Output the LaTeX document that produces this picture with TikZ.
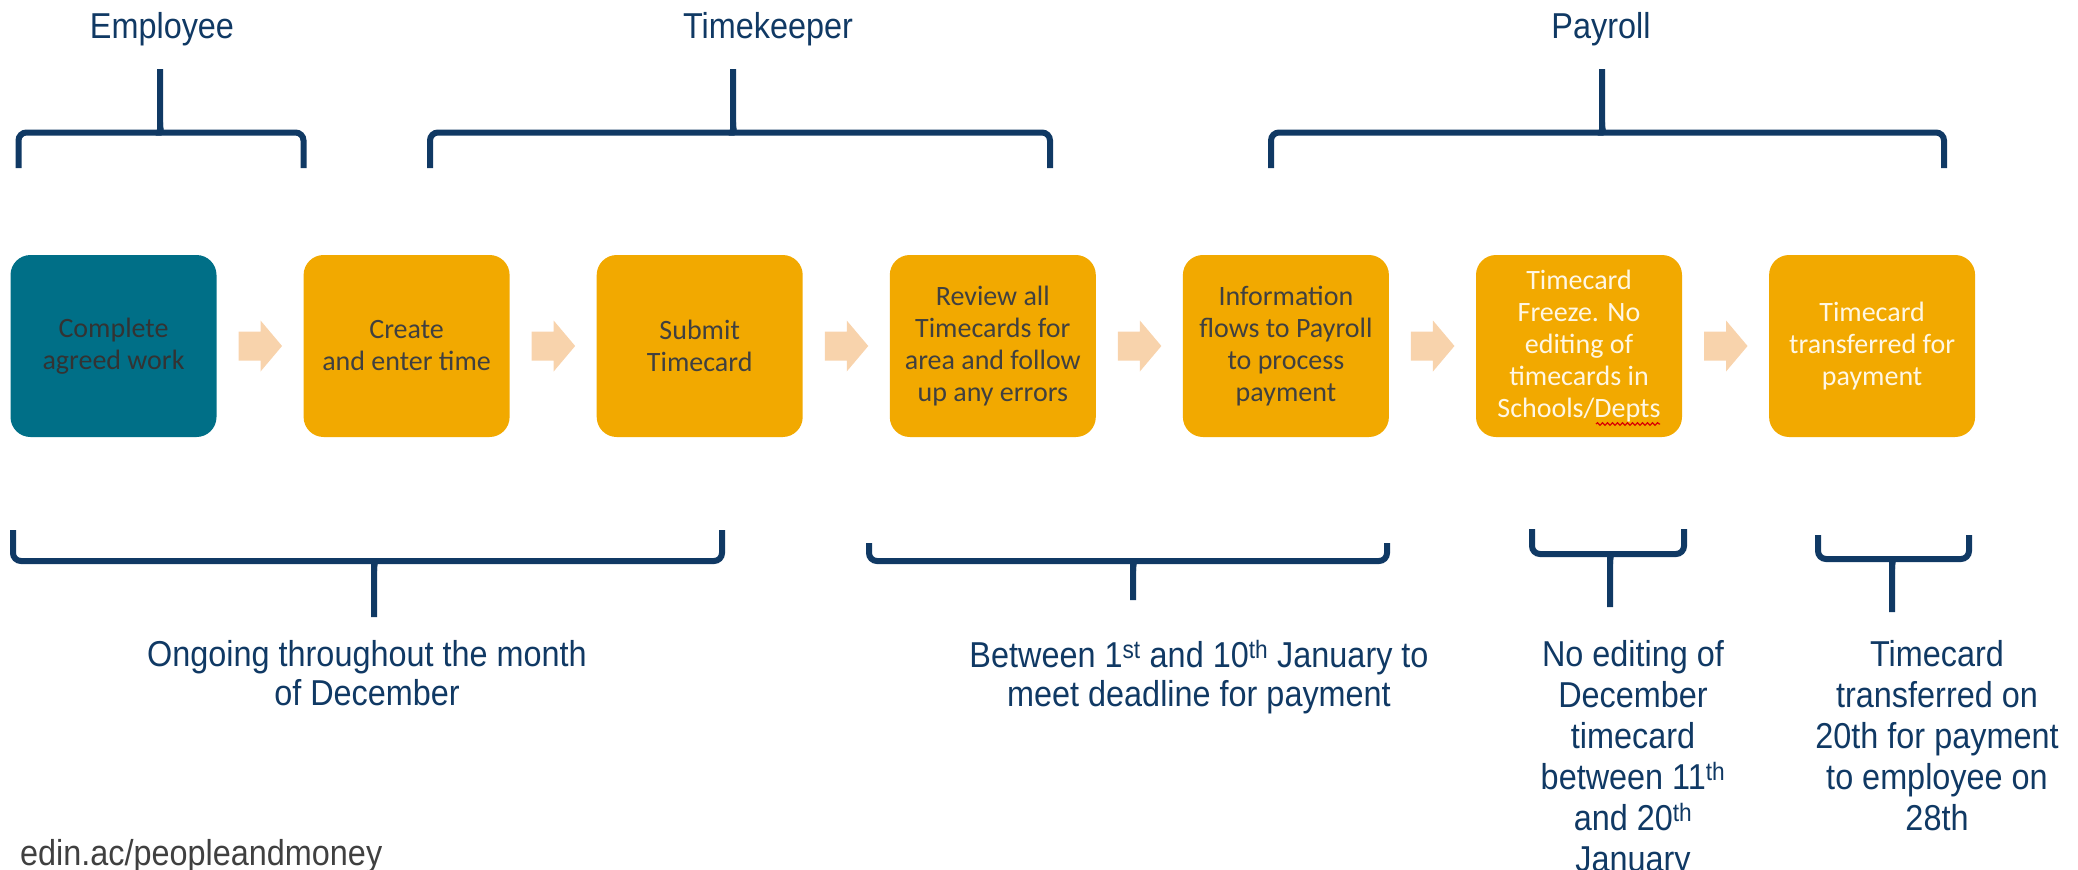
\documentclass[tikz,border=0pt]{standalone}
\usepackage{fontspec}
\setmainfont{Liberation Sans}[FakeStretch=0.9]
\newfontfamily\boxfont{Carlito}
\usetikzlibrary{calc,decorations.pathmorphing}
\definecolor{navy}{RGB}{16,57,100}
\definecolor{tealbox}{RGB}{0,111,135}
\definecolor{orangebox}{RGB}{242,169,0}
\definecolor{peach}{RGB}{248,211,172}
\definecolor{boxtext}{RGB}{64,64,64}
\definecolor{lighttext}{RGB}{255,247,228}
\definecolor{urlgray}{RGB}{64,64,64}
\tikzset{
  box/.style={rounded corners=20pt, minimum width=206pt, minimum height=182pt,
    inner sep=0pt, align=center, font=\boxfont\fontsize{28}{32}\selectfont,
    text=boxtext, fill=orangebox},
  lab/.style={text=navy, font=\fontsize{36}{41}\selectfont, align=center, inner sep=0pt},
  brk/.style={draw=navy, line width=6pt},
  flow/.style={fill=peach},
  squiggle/.style={draw=red!85!black, line width=1.2pt, decorate,
    decoration={snake, amplitude=1.3pt, segment length=5pt}},
}
\newcommand\brc[7]{%
  \draw[brk,rounded corners=8pt] (#1,#4) -- (#1,#5) -- ({#2-9},#5)
     .. controls ({#2-2},#5) and (#2,{#5+2*#7}) .. (#2,{#5+10*#7}) -- (#2,#6);
  \draw[brk,rounded corners=8pt] (#3,#4) -- (#3,#5) -- ({#2+9},#5)
     .. controls ({#2+2},#5) and (#2,{#5+2*#7}) .. (#2,{#5+10*#7});
}
\begin{document}
\begin{tikzpicture}[x=1pt,y=-1pt]
\useasboundingbox (0,0) rectangle (2078,870);
% process boxes
\node[box,fill=tealbox,text=boxtext!80!black] (b1) at (113.5,346) {Complete\\agreed work};
\node[box] (b2) at (406.6,346) {Create\\and enter time};
\node[box] (b3) at (699.7,346) {Submit\\Timecard};
\node[box] (b4) at (992.8,346) {Review all\\Timecards for\\area and follow\\up any errors};
\node[box] (b5) at (1285.9,346) {Information\\flows to Payroll\\to process\\payment};
\node[box,text=lighttext] (b6) at (1579,346) {Timecard\\Freeze. No\\editing of\\timecards in\\Schools/Depts};
\node[box,text=lighttext] (b7) at (1872.1,346) {Timecard\\transferred for\\payment};
% spell-check squiggle under "Depts"
\coordinate (sqA) at ($(b6.center)+(17,78)$);
\coordinate (sqB) at ($(b6.center)+(81,78)$);
\draw[squiggle] (sqA) -- (sqB);
% block arrows
\foreach \a/\b in {b1/b2,b2/b3,b3/b4,b4/b5,b5/b6,b6/b7}{
  \fill[flow] ($(\a.east)!0.5!(\b.west)$) ++(-21.5,-14.5) -- ++(22,0) -- ++(0,-11)
     -- ++(21.5,25.5) -- ++(-21.5,25.5) -- ++(0,-11) -- ++(-22,0) -- cycle;
}
% headers
\node[lab,anchor=base] (hE) at (162,38) {Employee};
\node[lab,anchor=base] (hT) at (768,38) {Timekeeper};
\node[lab,anchor=base] (hP) at (1601,38) {Payroll};
% top brackets
\brc{18.5}{160}{303.5}{168}{132.5}{69}{-1}
\brc{430}{733}{1050}{168}{132.5}{69}{-1}
\brc{1271}{1602}{1944}{168}{132.5}{69}{-1}
% bottom brackets
\brc{13}{374}{722}{530}{561}{617}{1}
\brc{869}{1133}{1387}{543}{561}{600}{1}
\brc{1532}{1610}{1684}{529}{554}{607}{1}
\brc{1818}{1892}{1969}{535}{559}{612}{1}
% bottom texts
\node[lab,anchor=north,font=\fontsize{36}{39}\selectfont] (t1) at (367,640)
  {Ongoing throughout the month\\of December};
\node[lab,anchor=north,font=\fontsize{36}{39}\selectfont] (t2) at (1199,640)
  {Between 1\textsuperscript{st} and 10\textsuperscript{th} January to\\meet deadline for payment};
\node[lab,anchor=north] (t3) at (1633,640)
  {No editing of\\December\\timecard\\between 11\textsuperscript{th}\\and 20\textsuperscript{th}\\January};
\node[lab,anchor=north] (t4) at (1937,640)
  {Timecard\\transferred on\\20th for payment\\to employee on\\28th};
\node[anchor=base west,inner sep=0pt,text=urlgray,font=\fontsize{36}{41}\selectfont] (url) at (20,865)
  {edin.ac/peopleandmoney};
\end{tikzpicture}
\end{document}
